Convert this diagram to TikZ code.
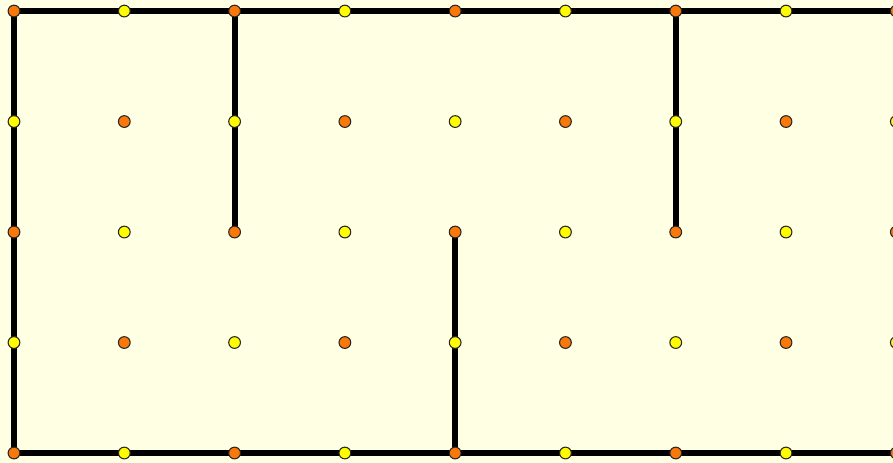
\documentclass[tikz,border=0pt]{standalone}
\usepackage{tikz}
\definecolor{paper}{RGB}{255, 255, 228}
\definecolor{dotorange}{RGB}{250, 120, 10}
\definecolor{dotyellow}{RGB}{255, 252, 0}

\tikzset{
    wall/.style={line width=3.4pt, black},
    gdot/.style={circle, draw=black!85, line width=0.6pt, inner sep=0pt, minimum size=0.235cm}
}

\begin{document}
\begin{tikzpicture}[x=2.206cm, y=2.21cm]
    % page and background
    \useasboundingbox (-0.127,-0.09) rectangle (7.97,4.1);
    \fill[paper] (-0.127,-0.09) rectangle (7.97,4.1);
    \clip (-0.127,-0.09) rectangle (7.97,4.1);

    % Grid points
    \foreach \i in {0,...,8}
        \foreach \j in {0,...,4}
            \coordinate (g-\i-\j) at (\i,\j);

    % Outer boundary
    \draw[wall] (g-8-4) -- (g-0-4) -- (g-0-0) -- (g-8-0);

    % Inner walls
    \draw[wall] (g-2-4) -- (g-2-2);
    \draw[wall] (g-6-4) -- (g-6-2);
    \draw[wall] (g-4-2) -- (g-4-0);

    % Dots
    \foreach \i in {0,...,8}
        \foreach \j in {0,...,4} {
            \pgfmathparse{int(mod(\i+\j,2))}
            \ifnum\pgfmathresult=0
                \node[gdot, fill=dotorange] (d-\i-\j) at (g-\i-\j) {};
            \else
                \node[gdot, fill=dotyellow] (d-\i-\j) at (g-\i-\j) {};
            \fi
        }
\end{tikzpicture}
\end{document}
